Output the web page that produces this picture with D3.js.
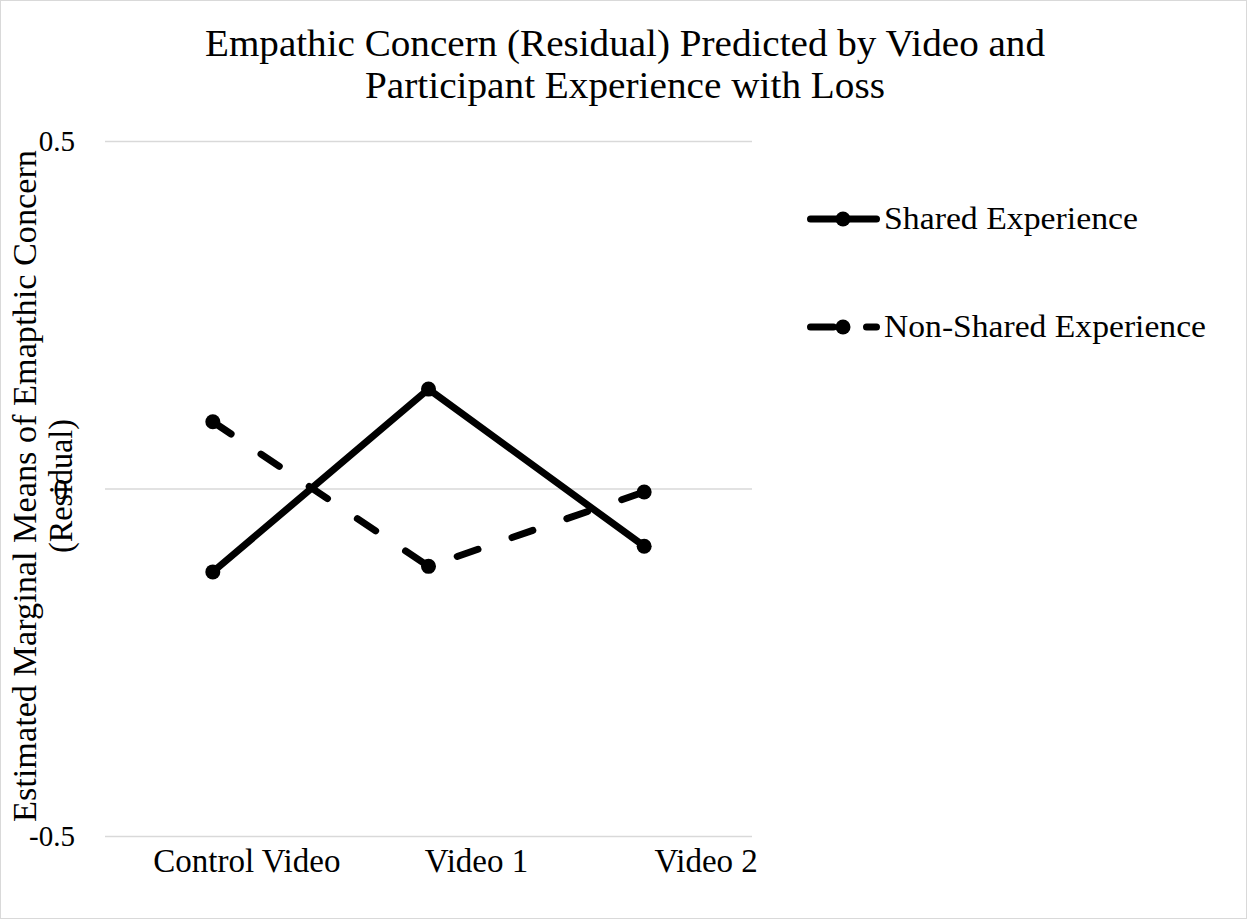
<!DOCTYPE html>
<html>
<head>
<meta charset="utf-8">
<script src="https://cdn.jsdelivr.net/npm/d3@7/dist/d3.min.js"></script>
<style>
  html, body { margin: 0; padding: 0; background: #fff; }
  svg { display: block; }
  text { font-family: "Liberation Serif", "DejaVu Serif", serif; fill: #000; }
</style>
</head>
<body>
<svg id="chart" width="1247" height="919"></svg>
<script>
// Estimated marginal means of empathic concern (residual)
const categories = ["Control Video", "Video 1", "Video 2"];
const sharedValues = [-0.12, 0.143, -0.083];
const nonSharedValues = [0.096, -0.112, -0.005];
const seriesNames = ["Shared Experience", "Non-Shared Experience"];
const yTicks = [-0.5, 0, 0.5];
const yTickLabels = ["-0.5", "0", "0.5"];
const titleLines = ["Empathic Concern (Residual) Predicted by Video and", "Participant Experience with Loss"];
const yTitleLines = ["Estimated Marginal Means of Emapthic Concern", "(Residual)"];

const svg = d3.select("#chart");
const W = 1247, H = 919;
const plot = { left: 105, right: 752, top: 141, bottom: 836 };
const LINE_W = 7, DOT_R = 7.5;

// outer frame
svg.append("rect")
  .attr("x", 0.5).attr("y", 0.5).attr("width", W - 1).attr("height", H - 1)
  .attr("fill", "#fff").attr("stroke", "#d9d9d9").attr("stroke-width", 1);

const x = d3.scaleBand().domain(categories).range([plot.left, plot.right]);
const y = d3.scaleLinear().domain([-0.5, 0.5]).range([plot.bottom, plot.top]);

// horizontal gridlines + value labels
const yAxis = d3.axisLeft(y)
  .tickValues(yTicks)
  .tickSize(-(plot.right - plot.left))
  .tickFormat((d, i) => yTickLabels[i]);
const gy = svg.append("g").attr("transform", `translate(${plot.left},0)`).call(yAxis);
gy.select(".domain").remove();
gy.selectAll(".tick line").attr("stroke", "#d9d9d9").attr("stroke-width", 1.5);
gy.selectAll(".tick text")
  .attr("x", d => d === 0 ? -37 : -30).attr("dy", "0.34em")
  .attr("text-anchor", "end")
  .style("font-family", '"Liberation Serif", serif')
  .style("font-size", "29px");

// category labels
const labelShift = [34, 48, 62];
const xAxis = d3.axisBottom(x).tickSize(0);
const gx = svg.append("g").attr("transform", `translate(0,${plot.bottom})`).call(xAxis);
gx.select(".domain").remove();
gx.selectAll(".tick text")
  .attr("x", (d, i) => labelShift[i])
  .attr("y", 36).attr("dy", 0)
  .style("font-family", '"Liberation Serif", serif')
  .style("font-size", "33px");

// title
const titleWidths = [840, 520];
svg.append("g").selectAll("text").data(titleLines).join("text")
  .attr("x", 625).attr("y", (d, i) => 56 + i * 42)
  .attr("text-anchor", "middle")
  .attr("textLength", (d, i) => titleWidths[i])
  .attr("lengthAdjust", "spacingAndGlyphs")
  .style("font-size", "37px")
  .text(d => d);

// y axis title
const yTitleWidths = [672, 134];
svg.append("g").selectAll("text").data(yTitleLines).join("text")
  .attr("transform", (d, i) => `translate(${36 + i * 36},486) rotate(-90)`)
  .attr("text-anchor", "middle")
  .attr("textLength", (d, i) => yTitleWidths[i])
  .attr("lengthAdjust", "spacingAndGlyphs")
  .style("font-size", "33px")
  .text(d => d);

// series
const series = [
  { name: seriesNames[0], values: sharedValues, dash: null },
  { name: seriesNames[1], values: nonSharedValues, dash: "22 36" }
];
const cx = (d, i) => x(categories[i]) + x.bandwidth() / 2;
const line = d3.line().x(cx).y(d => y(d));

series.forEach(s => {
  const g = svg.append("g");
  g.append("path")
    .attr("d", line(s.values))
    .attr("fill", "none").attr("stroke", "#000").attr("stroke-width", LINE_W)
    .attr("stroke-linecap", "round").attr("stroke-linejoin", "round")
    .attr("stroke-dasharray", s.dash);
  g.selectAll("circle").data(s.values).join("circle")
    .attr("cx", cx)
    .attr("cy", d => y(d))
    .attr("r", DOT_R).attr("fill", "#000");
});

// legend
const legendWidths = [254, 322];
const lg = svg.append("g");
series.forEach((s, i) => {
  const ly = 219 + i * 108;
  lg.append("path")
    .attr("d", `M810.5,${ly}H876.5`)
    .attr("stroke", "#000").attr("stroke-width", LINE_W).attr("stroke-linecap", "round")
    .attr("stroke-dasharray", s.dash ? "23 33" : null);
  lg.append("circle").attr("cx", 843).attr("cy", ly).attr("r", DOT_R).attr("fill", "#000");
  lg.append("text")
    .attr("x", 884).attr("y", ly + 10)
    .attr("textLength", legendWidths[i])
    .attr("lengthAdjust", "spacingAndGlyphs")
    .style("font-size", "31px")
    .text(s.name);
});
</script>
</body>
</html>
